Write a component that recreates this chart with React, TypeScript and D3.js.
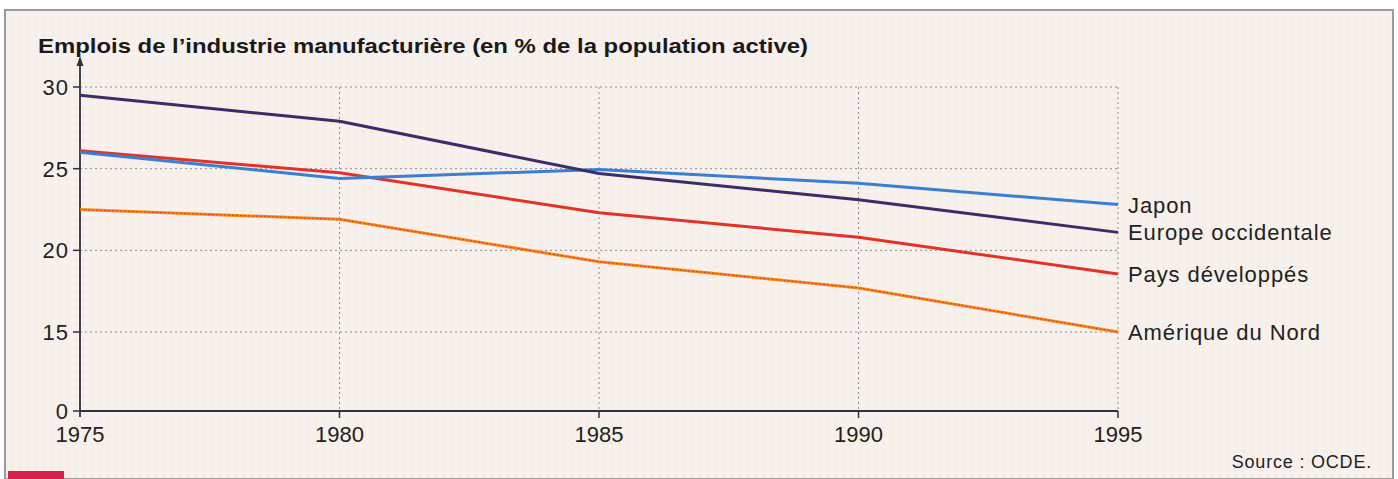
import React, { useEffect, useRef } from "react";
import * as d3 from "d3";

const years = [1975, 1980, 1985, 1990, 1995];
const yTicks = [0, 15, 20, 25, 30];
const xTicks = [1975, 1980, 1985, 1990, 1995];

const seriesNames = ["Japon", "Europe occidentale", "Pays développés", "Amérique du Nord"];
const japon = [26.0, 24.4, 24.95, 24.1, 22.8];
const europe = [29.5, 27.9, 24.7, 23.1, 21.1];
const paysDev = [26.1, 24.75, 22.3, 20.8, 18.55];
const ameriqueNord = [22.5, 21.9, 19.3, 17.7, 15.0];

const title = "Emplois de l’industrie manufacturière (en % de la population active)";
const source = "Source : OCDE.";

const W = 1398;
const H = 479;

const App: React.FC = () => {
  const svgRef = useRef<SVGSVGElement>(null);

  useEffect(() => {
    if (!svgRef.current) return;
    const svg = d3.select(svgRef.current);
    svg.selectAll("*").remove();

    const font = "'Liberation Sans', Arial, sans-serif";

    // paper background with a faint halftone look
    const defs = svg.append("defs");
    const pat = defs
      .append("pattern")
      .attr("id", "dots")
      .attr("width", 8)
      .attr("height", 8)
      .attr("patternUnits", "userSpaceOnUse");
    pat.append("rect").attr("width", 8).attr("height", 8).attr("fill", "#f6f0f5");
    pat.append("rect").attr("x", 2).attr("y", 2).attr("width", 3).attr("height", 3).attr("fill", "#f5efcc");

    svg.append("rect").attr("width", W).attr("height", H).attr("fill", "#ffffff");
    svg
      .append("rect")
      .attr("x", 5)
      .attr("y", 10)
      .attr("width", 1388)
      .attr("height", H - 10)
      .attr("fill", "url(#dots)")
      .attr("stroke", "#9c9a9c")
      .attr("stroke-width", 2);

    // red tab at bottom left
    svg.append("rect").attr("x", 8).attr("y", 471).attr("width", 56).attr("height", 8).attr("fill", "#d8204a");

    // scales (broken y axis: 0 sits one step under 15)
    const x = d3.scaleLinear().domain([1975, 1995]).range([80, 1118]);
    const y = d3.scaleLinear().domain([0, 15, 30]).range([411, 332, 87]);

    const g = svg.append("g");

    // dotted grid
    g.selectAll(".hgrid")
      .data(yTicks.filter((d) => d > 0))
      .enter()
      .append("line")
      .attr("x1", x(1975))
      .attr("x2", x(1995))
      .attr("y1", (d) => y(d))
      .attr("y2", (d) => y(d))
      .attr("stroke", "#8f8c96")
      .attr("stroke-width", 1)
      .attr("stroke-dasharray", "2,3");

    g.selectAll(".vgrid")
      .data(xTicks.filter((d) => d > 1975))
      .enter()
      .append("line")
      .attr("x1", (d) => x(d))
      .attr("x2", (d) => x(d))
      .attr("y1", y(30))
      .attr("y2", y(0))
      .attr("stroke", "#8f8c96")
      .attr("stroke-width", 1)
      .attr("stroke-dasharray", "2,3");

    // axes
    g.append("line")
      .attr("x1", x(1975))
      .attr("x2", x(1995))
      .attr("y1", y(0))
      .attr("y2", y(0))
      .attr("stroke", "#2f3340")
      .attr("stroke-width", 1.8);
    g.append("line")
      .attr("x1", x(1975))
      .attr("x2", x(1975))
      .attr("y1", y(0) + 6)
      .attr("y2", 62)
      .attr("stroke", "#2f3340")
      .attr("stroke-width", 1.8);
    g.append("path")
      .attr("d", `M${x(1975) - 3.5},66 L${x(1975)},56 L${x(1975) + 3.5},66 Z`)
      .attr("fill", "#2f3340");

    g.selectAll(".ytick")
      .data(yTicks)
      .enter()
      .append("line")
      .attr("x1", x(1975) - 7)
      .attr("x2", x(1975))
      .attr("y1", (d) => y(d))
      .attr("y2", (d) => y(d))
      .attr("stroke", "#2f3340")
      .attr("stroke-width", 1.5);

    g.selectAll(".ylab")
      .data(yTicks)
      .enter()
      .append("text")
      .attr("x", x(1975) - 11)
      .attr("y", (d) => y(d))
      .attr("dy", "0.36em")
      .attr("text-anchor", "end")
      .style("font-family", font)
      .style("font-size", "22px")
      .style("letter-spacing", "1px")
      .style("fill", "#222")
      .text((d) => d);

    g.selectAll(".xtick")
      .data(xTicks.filter((d) => d > 1975))
      .enter()
      .append("line")
      .attr("x1", (d) => x(d))
      .attr("x2", (d) => x(d))
      .attr("y1", y(0))
      .attr("y2", y(0) + 7)
      .attr("stroke", "#2f3340")
      .attr("stroke-width", 1.5);

    g.selectAll(".xlab")
      .data(xTicks)
      .enter()
      .append("text")
      .attr("x", (d) => x(d))
      .attr("y", 442)
      .attr("text-anchor", "middle")
      .style("font-family", font)
      .style("font-size", "22px")
      .style("fill", "#222")
      .text((d) => d);

    // series
    const values = [japon, europe, paysDev, ameriqueNord];
    const colors = ["#3a7ed6", "#3b2d6a", "#e2322a", "#f28a1e"];
    const line = d3
      .line<number>()
      .x((_, i) => x(years[i]))
      .y((d) => y(d));

    // draw back to front: Amérique, Pays, Japon, Europe
    const order = [3, 2, 0, 1];
    order.forEach((k) => {
      g.append("path")
        .attr("d", line(values[k]) as string)
        .attr("fill", "none")
        .attr("stroke", colors[k])
        .attr("stroke-width", 3)
        .attr("stroke-linejoin", "round");
      if (k === 3) {
        g.append("path")
          .attr("d", line(values[k]) as string)
          .attr("fill", "none")
          .attr("stroke", "#e2402a")
          .attr("stroke-width", 1.2)
          .attr("stroke-dasharray", "2,2");
      }
    });

    // labels at the right end
    const labelY = [y(japon[4]), y(europe[4]), y(paysDev[4]), y(ameriqueNord[4])];
    g.selectAll(".slab")
      .data(seriesNames)
      .enter()
      .append("text")
      .attr("x", x(1995) + 10)
      .attr("y", (_, i) => labelY[i])
      .attr("dy", "0.36em")
      .style("font-family", font)
      .style("font-size", "22px")
      .style("letter-spacing", "0.9px")
      .style("fill", "#222")
      .text((d) => d);

    // title
    svg
      .append("text")
      .attr("x", 38)
      .attr("y", 53)
      .style("font-family", font)
      .style("font-weight", "bold")
      .style("font-size", "21px")
      .style("fill", "#1a1a1a")
      .attr("textLength", 770)
      .attr("lengthAdjust", "spacingAndGlyphs")
      .text(title);

    svg
      .append("text")
      .attr("x", 1372)
      .attr("y", 468)
      .attr("text-anchor", "end")
      .style("font-family", font)
      .style("font-size", "18px")
      .style("letter-spacing", "0.8px")
      .style("fill", "#222")
      .text(source);
  }, []);

  return (
    <svg
      ref={svgRef}
      width={W}
      height={H}
      viewBox={`0 0 ${W} ${H}`}
      style={{ position: "absolute", left: 0, top: 0, display: "block" }}
    />
  );
};

export default App;
